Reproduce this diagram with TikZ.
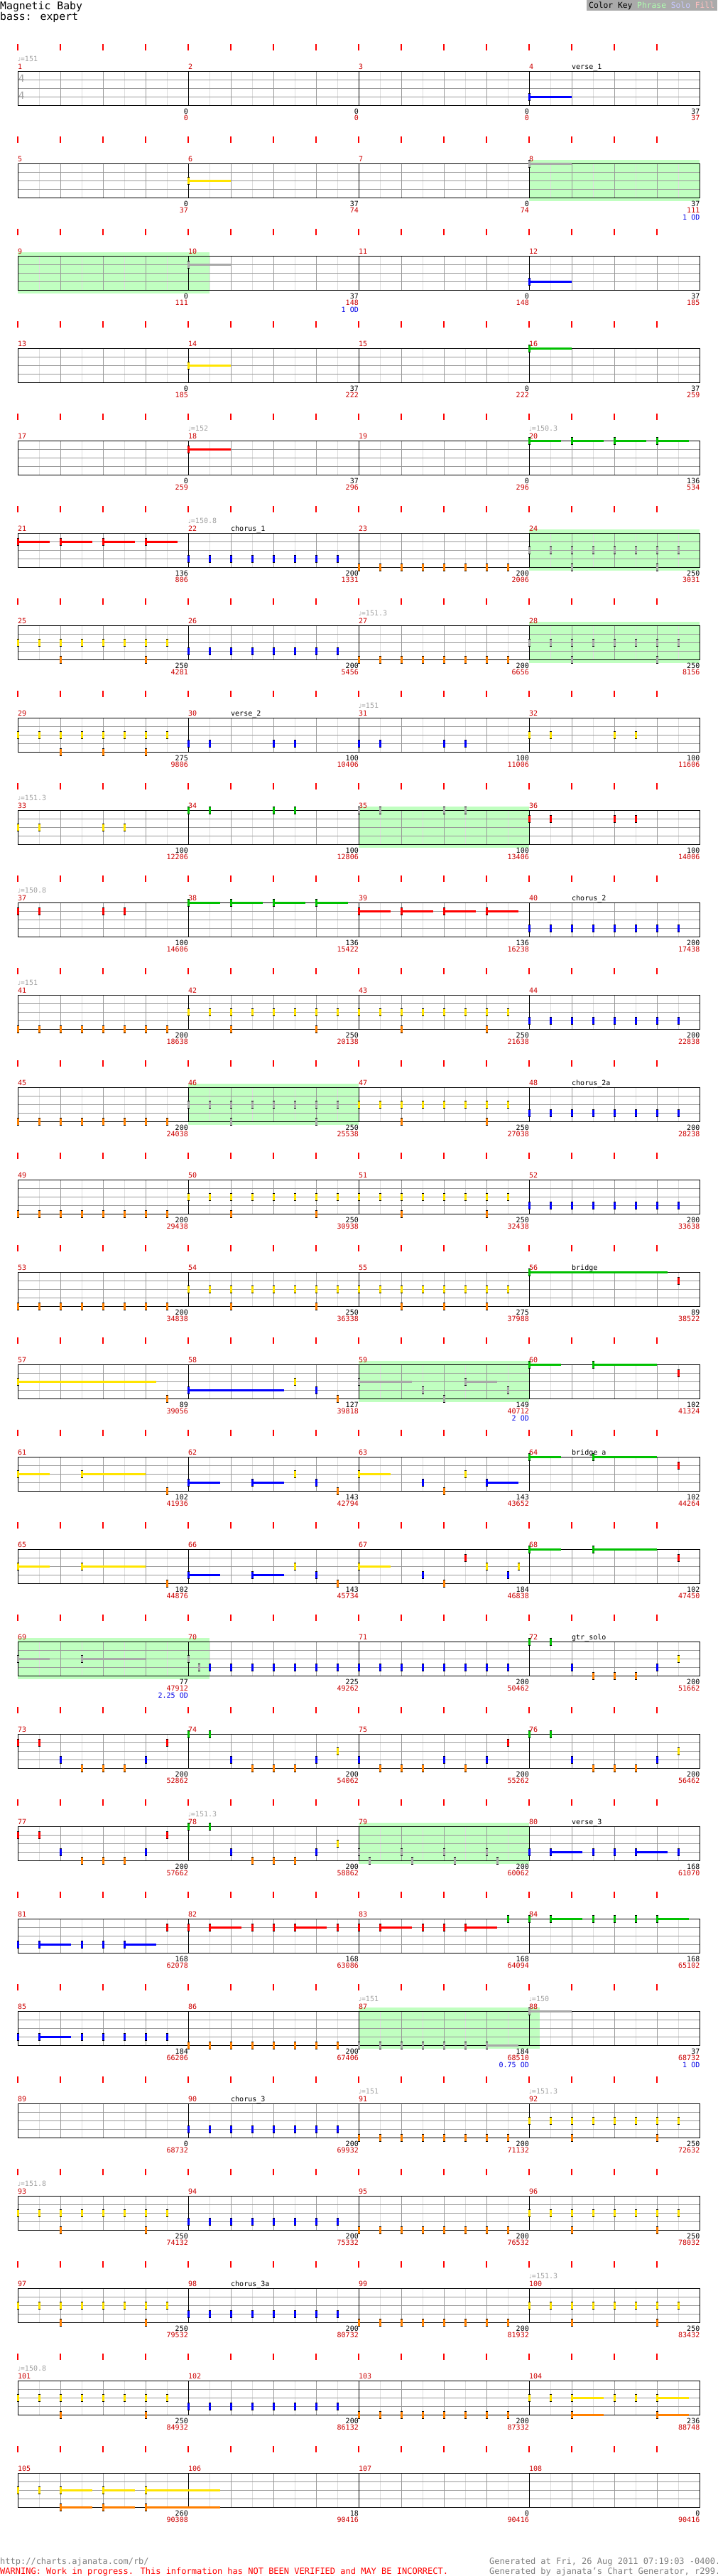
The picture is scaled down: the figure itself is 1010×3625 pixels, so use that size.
\documentclass[tikz,border=0pt]{standalone}
\usepackage{fontspec}
\setmainfont{DejaVu Sans Mono}
\newfontfamily\notefont{DejaVu Sans}
\usepackage{tikz}

\definecolor{gemgreen}{RGB}{0,192,0}
\definecolor{gemred}{RGB}{255,0,0}
\definecolor{gemyellow}{RGB}{255,228,0}
\definecolor{gemblue}{RGB}{0,0,255}
\definecolor{gemorange}{RGB}{255,128,0}
\definecolor{gemod}{RGB}{168,168,168}
\definecolor{phrasebg}{RGB}{192,255,192}
\definecolor{gridgrey}{RGB}{153,153,153}
\definecolor{gridlight}{RGB}{221,221,221}
\definecolor{tempogrey}{RGB}{160,160,160}
\definecolor{numred}{RGB}{204,0,0}
\definecolor{odblue}{RGB}{0,0,230}
\definecolor{keygrey}{RGB}{170,170,170}
\definecolor{keygreen}{RGB}{176,255,176}
\definecolor{keyblue}{RGB}{200,200,255}
\definecolor{keypink}{RGB}{255,192,192}

\newcommand{\chartsmall}{\fontsize{10}{10}\selectfont}
% gems: row, lane, colour, eighths
\newcommand{\gems}[4]{%
  \foreach \gp in {#4}{%
    \draw[gemtip] ({25+30*\gp},{94.5+130*#1+12*#2}) -- ++(0,11);
    \draw[gembody=#3] ({25+30*\gp},{95.5+130*#1+12*#2}) -- ++(0,9);
  }}
% sustained gem: row, lane, colour, start, length
\newcommand{\sus}[5]{%
  \draw[tail=#3] ({25+30*#4},{100+130*#1+12*#2}) -- ++({30*#5},0);
  \gems{#1}{#2}{#3}{#4}}
% phrase: row, from, to
\newcommand{\phrase}[3]{\fill[phrasebg] ({25+30*#2},{95+130*#1}) rectangle ({25+30*#3},{153+130*#1});}

\begin{document}
\begin{tikzpicture}[x=1pt, y=-1pt,
    beat/.style={draw=red, line width=2pt},
    eighth/.style={draw=gridlight, line width=1pt},
    quarter/.style={draw=gridgrey, line width=1pt},
    bar/.style={draw=black, line width=1pt},
    gemtip/.style={draw=black, line width=3pt},
    gembody/.style={draw=#1, line width=3pt},
    tail/.style={draw=#1, line width=3pt},
    mnum/.style={anchor=base west, inner sep=0pt, text=numred, font=\chartsmall},
    sect/.style={anchor=base west, inner sep=0pt, font=\chartsmall},
    tempo/.style={anchor=base west, inner sep=0pt, text=tempogrey, font=\chartsmall},
    score/.style={anchor=base east, inner sep=0pt, font=\chartsmall},
    total/.style={score, text=numred},
    od/.style={score, text=odblue}
]
\useasboundingbox (0,0) rectangle (1010,3625);

% Header
\node[anchor=base west, inner sep=0pt, font=\fontsize{14.8}{15}\selectfont] (title) at (0,13.5) {Magnetic Baby};
\node[anchor=base west, inner sep=0pt, font=\fontsize{14.8}{15}\selectfont] (part) at (0,28) {bass: expert};
\fill[keygrey] (826,0) rectangle (1010,15);
\node[anchor=base west, inner sep=0pt, font=\fontsize{11.3}{12}\selectfont] (key) at (829,11.5)
  {Color Key \textcolor{keygreen}{Phrase} \textcolor{keyblue}{Solo} \textcolor{keypink}{Fill}};

% Phrases
\phrase{1}{24}{32}
\phrase{2}{0}{9}
\phrase{5}{24}{32}
\phrase{6}{24}{32}
\phrase{8}{16}{24}
\phrase{11}{8}{16}
\phrase{14}{16}{24}
\phrase{17}{0}{9}
\phrase{19}{16}{24}
\phrase{21}{16}{24.5}

% Staves
\foreach \rw in {0,...,26}{
  \pgfmathsetmacro\rowtop{100+130*\rw}
  \foreach \q in {0,...,15} \draw[beat] ({25+60*\q},{\rowtop-38}) -- ++(0,9);
  \foreach \q in {1,3,...,31} \draw[eighth] ({25+30*\q},\rowtop) -- ++(0,48);
  \foreach \q in {1,2,3,5,6,7,9,10,11,13,14,15} \draw[quarter] ({25+60*\q},\rowtop) -- ++(0,48);
  \foreach \q in {1,2,3} \draw[quarter] (25,{\rowtop+12*\q}) -- (985,{\rowtop+12*\q});
  \foreach \q in {1,2,3} \draw[bar] ({25+240*\q},\rowtop) -- ++(0,48);
  \draw[bar] (25,\rowtop) rectangle (985,{\rowtop+48});
  \foreach \q in {0,...,3}{
    \pgfmathtruncatemacro\barno{4*\rw+\q+1}
    \node[mnum] (num-\barno) at ({25+240*\q},{\rowtop-3}) {\barno};
  }
}
\node[anchor=base west, inner sep=0pt, text=tempogrey, font=\fontsize{14}{14}\selectfont] (sigtop) at (26,115) {4};
\node[anchor=base west, inner sep=0pt, text=tempogrey, font=\fontsize{14}{14}\selectfont] (sigbot) at (26,139) {4};

% Tempos
\foreach \rw/\q/\bpm in {0/0/151, 4/1/152, 4/3/150.3, 5/1/150.8, 6/2/151.3, 7/2/151, 8/0/151.3,
    9/0/150.8, 10/0/151, 19/1/151.3, 21/2/151, 21/3/150, 22/2/151, 22/3/151.3, 23/0/151.8,
    24/3/151.3, 25/0/150.8}
  \node[tempo] (bpm-\rw-\q) at ({25+240*\q},{86+130*\rw}) {{\notefont\fontsize{8}{8}\selectfont ♩}=\bpm};

% Sections
\foreach \rw/\q/\nm in {0/3/verse\_1, 5/1/chorus\_1, 7/1/verse\_2, 9/3/chorus\_2, 11/3/chorus\_2a,
    13/3/bridge, 15/3/bridge\_a, 17/3/gtr\_solo, 19/3/verse\_3, 22/1/chorus\_3, 24/1/chorus\_3a}
  \node[sect] (sec-\rw) at ({85+240*\q},{97+130*\rw}) {\nm};

% Scores
\foreach \rw/\ba/\bb/\bc/\bd/\ta/\tb/\tc/\td in {
    0/0/0/0/37/0/0/0/37, 1/0/37/0/37/37/74/74/111, 2/0/37/0/37/111/148/148/185,
    3/0/37/0/37/185/222/222/259, 4/0/37/0/136/259/296/296/534,
    5/136/200/200/250/806/1331/2006/3031, 6/250/200/200/250/4281/5456/6656/8156,
    7/275/100/100/100/9806/10406/11006/11606, 8/100/100/100/100/12206/12806/13406/14006,
    9/100/136/136/200/14606/15422/16238/17438, 10/200/250/250/200/18638/20138/21638/22838,
    11/200/250/250/200/24038/25538/27038/28238, 12/200/250/250/200/29438/30938/32438/33638,
    13/200/250/275/89/34838/36338/37988/38522, 14/89/127/149/102/39056/39818/40712/41324,
    15/102/143/143/102/41936/42794/43652/44264, 16/102/143/184/102/44876/45734/46838/47450,
    17/77/225/200/200/47912/49262/50462/51662, 18/200/200/200/200/52862/54062/55262/56462,
    19/200/200/200/168/57662/58862/60062/61070, 20/168/168/168/168/62078/63086/64094/65102,
    21/184/200/184/37/66206/67406/68510/68732, 22/0/200/200/250/68732/69932/71132/72632,
    23/250/200/200/250/74132/75332/76532/78032, 24/250/200/200/250/79532/80732/81932/83432,
    25/250/200/200/236/84932/86132/87332/88748, 26/260/18/0/0/90308/90416/90416/90416}{
  \pgfmathsetmacro\rowtop{100+130*\rw}
  \node[score] (pts-\rw-1) at (265,{\rowtop+60.5}) {\ba};
  \node[score] (pts-\rw-2) at (505,{\rowtop+60.5}) {\bb};
  \node[score] (pts-\rw-3) at (745,{\rowtop+60.5}) {\bc};
  \node[score] (pts-\rw-4) at (985.5,{\rowtop+60.5}) {\bd};
  \node[total] (tot-\rw-1) at (265,{\rowtop+69.5}) {\ta};
  \node[total] (tot-\rw-2) at (505,{\rowtop+69.5}) {\tb};
  \node[total] (tot-\rw-3) at (745,{\rowtop+69.5}) {\tc};
  \node[total] (tot-\rw-4) at (985.5,{\rowtop+69.5}) {\td};
}
\node[od] (od-1) at (985.5,309) {1 OD};
\node[od] (od-2) at (505,439) {1 OD};
\node[od] (od-14) at (745,1999) {2 OD};
\node[od] (od-17) at (265,2389) {2.25 OD};
\node[od] (od-21a) at (745,2909) {0.75 OD};
\node[od] (od-21b) at (985.5,2909) {1 OD};

% Notes
\sus{0}{3}{gemblue}{24}{2}
\sus{1}{2}{gemyellow}{8}{2}
\sus{1}{0}{gemod}{24}{2}
\sus{2}{1}{gemod}{8}{2}
\sus{2}{3}{gemblue}{24}{2}
\sus{3}{2}{gemyellow}{8}{2}
\sus{3}{0}{gemgreen}{24}{2}
\sus{4}{1}{gemred}{8}{2}
\foreach \st in {24,26,28,30} {\sus{4}{0}{gemgreen}{\st}{1.5}}
% row 6
\foreach \st in {0,2,4,6} {\sus{5}{1}{gemred}{\st}{1.5}}
\gems{5}{3}{gemblue}{8,...,15}
\gems{5}{4}{gemorange}{16,...,23}
\gems{5}{2}{gemod}{24,...,31}
\gems{5}{4}{gemod}{26,30}
\gems{6}{2}{gemyellow}{0,...,7}
\gems{6}{4}{gemorange}{2,6}
\gems{6}{3}{gemblue}{8,...,15}
\gems{6}{4}{gemorange}{16,...,23}
\gems{6}{2}{gemod}{24,...,31}
\gems{6}{4}{gemod}{26,30}
\gems{7}{2}{gemyellow}{0,...,7}
\gems{7}{4}{gemorange}{2,4,6}
\gems{7}{3}{gemblue}{8,9,12,13,16,17,20,21}
\gems{7}{2}{gemyellow}{24,25,28,29}
\gems{8}{2}{gemyellow}{0,1,4,5}
\gems{8}{0}{gemgreen}{8,9,12,13}
\gems{8}{0}{gemod}{16,17,20,21}
\gems{8}{1}{gemred}{24,25,28,29}
\gems{9}{1}{gemred}{0,1,4,5}
\foreach \st in {8,10,12,14} {\sus{9}{0}{gemgreen}{\st}{1.5}}
\foreach \st in {16,18,20,22} {\sus{9}{1}{gemred}{\st}{1.5}}
\gems{9}{3}{gemblue}{24,...,31}
% choruses
\foreach \rw in {10,12}{
  \gems{\rw}{4}{gemorange}{0,...,7}
  \gems{\rw}{2}{gemyellow}{8,...,23}
  \gems{\rw}{4}{gemorange}{10,14,18,22}
  \gems{\rw}{3}{gemblue}{24,...,31}
}
\gems{11}{4}{gemorange}{0,...,7}
\gems{11}{2}{gemod}{8,...,15}
\gems{11}{4}{gemod}{10,14}
\gems{11}{2}{gemyellow}{16,...,23}
\gems{11}{4}{gemorange}{18,22}
\gems{11}{3}{gemblue}{24,...,31}
\gems{13}{4}{gemorange}{0,...,7}
\gems{13}{2}{gemyellow}{8,...,23}
\gems{13}{4}{gemorange}{10,14,18,20,22}
\sus{13}{0}{gemgreen}{24}{6.5}
\gems{13}{1}{gemred}{31}
% bridge
\sus{14}{2}{gemyellow}{0}{6.5}
\gems{14}{4}{gemorange}{7,15}
\sus{14}{3}{gemblue}{8}{4.5}
\gems{14}{2}{gemyellow}{13}
\gems{14}{3}{gemblue}{14}
\sus{14}{2}{gemod}{16}{2.5}
\gems{14}{3}{gemod}{19,23}
\gems{14}{4}{gemod}{20}
\sus{14}{2}{gemod}{21}{1.5}
\sus{14}{0}{gemgreen}{24}{1.5}
\sus{14}{0}{gemgreen}{27}{3}
\gems{14}{1}{gemred}{31}
\foreach \rw in {15,16}{
  \sus{\rw}{2}{gemyellow}{0}{1.5}
  \sus{\rw}{2}{gemyellow}{3}{3}
  \gems{\rw}{4}{gemorange}{7,15,20}
  \sus{\rw}{3}{gemblue}{8}{1.5}
  \sus{\rw}{3}{gemblue}{11}{1.5}
  \gems{\rw}{2}{gemyellow}{13}
  \gems{\rw}{3}{gemblue}{14,19}
  \sus{\rw}{2}{gemyellow}{16}{1.5}
  \sus{\rw}{0}{gemgreen}{24}{1.5}
  \sus{\rw}{0}{gemgreen}{27}{3}
  \gems{\rw}{1}{gemred}{31}
}
\gems{15}{2}{gemyellow}{21}
\sus{15}{3}{gemblue}{22}{1.5}
\gems{16}{1}{gemred}{21}
\gems{16}{2}{gemyellow}{22,23.5}
\gems{16}{3}{gemblue}{23}
% solo
\sus{17}{2}{gemod}{0}{1.5}
\sus{17}{2}{gemod}{3}{3}
\gems{17}{2}{gemod}{8}
\gems{17}{3}{gemod}{8.5}
\gems{17}{3}{gemblue}{9,...,23}
\gems{17}{0}{gemgreen}{24,25}
\gems{17}{3}{gemblue}{26,30}
\gems{17}{4}{gemorange}{27,28,29}
\gems{17}{2}{gemyellow}{31}
\gems{18}{1}{gemred}{0,1,7,23}
\gems{18}{3}{gemblue}{2,6,10,14,16,20,22,26,30}
\gems{18}{4}{gemorange}{3,4,5,11,12,13,17,18,19,21,27,28,29}
\gems{18}{0}{gemgreen}{8,9,24,25}
\gems{18}{2}{gemyellow}{15,31}
\gems{19}{1}{gemred}{0,1,7}
\gems{19}{3}{gemblue}{2,6,10,14}
\gems{19}{4}{gemorange}{3,4,5,11,12,13}
\gems{19}{0}{gemgreen}{8,9}
\gems{19}{2}{gemyellow}{15}
\gems{19}{3}{gemod}{16,18,20,22}
\gems{19}{4}{gemod}{16.5,18.5,20.5,22.5}
\gems{19}{3}{gemblue}{24,27,28,31}
\sus{19}{3}{gemblue}{25}{1.5}
\sus{19}{3}{gemblue}{29}{1.5}
% verse 3
\gems{20}{3}{gemblue}{0,3,4}
\sus{20}{3}{gemblue}{1}{1.5}
\sus{20}{3}{gemblue}{5}{1.5}
\gems{20}{1}{gemred}{7,8,11,12,15,16,19,20}
\foreach \st in {9,13,17,21} {\sus{20}{1}{gemred}{\st}{1.5}}
\gems{20}{0}{gemgreen}{23,24,27,28,29}
\sus{20}{0}{gemgreen}{25}{1.5}
\sus{20}{0}{gemgreen}{30}{1.5}
\gems{21}{3}{gemblue}{0,3,4,5,6,7}
\sus{21}{3}{gemblue}{1}{1.5}
\gems{21}{4}{gemorange}{8,...,15}
\gems{21}{4}{gemod}{16,...,21}
\sus{21}{4}{gemod}{22}{1.5}
\sus{21}{0}{gemod}{24}{2}
% last choruses
\gems{22}{3}{gemblue}{8,...,15}
\gems{22}{4}{gemorange}{16,...,23}
\gems{22}{2}{gemyellow}{24,...,31}
\gems{22}{4}{gemorange}{26,30}
\foreach \rw in {23,24,25}{
  \gems{\rw}{2}{gemyellow}{0,...,7}
  \gems{\rw}{4}{gemorange}{2,6}
  \gems{\rw}{3}{gemblue}{8,...,15}
  \gems{\rw}{4}{gemorange}{16,...,23}
}
\foreach \rw in {23,24}{
  \gems{\rw}{2}{gemyellow}{24,...,31}
  \gems{\rw}{4}{gemorange}{26,30}
}
\gems{25}{2}{gemyellow}{24,25,28,29}
\foreach \st in {26,30} {\sus{25}{2}{gemyellow}{\st}{1.5} \sus{25}{4}{gemorange}{\st}{1.5}}
\gems{26}{2}{gemyellow}{0,1}
\foreach \st/\ln in {2/1.5,4/1.5,6/3.5} {\sus{26}{2}{gemyellow}{\st}{\ln} \sus{26}{4}{gemorange}{\st}{\ln}}

% Footer
\node[anchor=base west, inner sep=0pt, text=gray, font=\fontsize{12}{12}\selectfont] (url) at (0,3608) {http://charts.ajanata.com/rb/};
\node[anchor=base west, inner sep=0pt, text=red, font=\fontsize{12}{12}\selectfont] (warn) at (0,3622) {WARNING: Work in progress. This information has NOT BEEN VERIFIED and MAY BE INCORRECT.};
\node[anchor=base west, inner sep=0pt, text=gray, font=\fontsize{12}{12}\selectfont] (stamp) at (689,3608) {Generated at Fri, 26 Aug 2011 07:19:03 -0400.};
\node[anchor=base west, inner sep=0pt, text=gray, font=\fontsize{12}{12}\selectfont] (gen) at (689,3622) {Generated by ajanata's Chart Generator, r299.};
\end{tikzpicture}
\end{document}
